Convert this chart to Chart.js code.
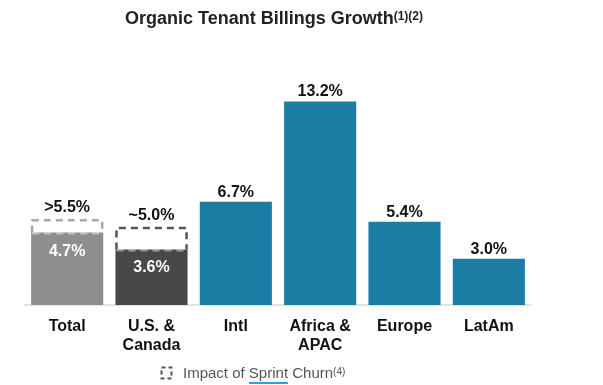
<!DOCTYPE html>
<html>
<head>
<meta charset="utf-8">
<script src="https://cdn.jsdelivr.net/npm/chart.js@4.4.1/dist/chart.umd.min.js"></script>
<style>
  html,body{margin:0;padding:0;background:#fff;}
  #wrap{position:relative;width:603px;height:385px;overflow:hidden;font-family:Arial,"Liberation Sans",sans-serif;}
  #c{position:absolute;left:0;top:0;}
  #title{position:absolute;left:125px;top:8px;font-size:18px;font-weight:bold;color:#222;line-height:20px;white-space:nowrap;}
  #title sup{font-size:12px;vertical-align:top;position:relative;top:-2px;}
  #legend{position:absolute;left:183px;top:364px;font-size:15px;color:#555;line-height:18px;white-space:nowrap;}
  #legend .sp{border-bottom:2px solid #3d9ad8;padding-bottom:1px;}
  #legend sup{font-size:10px;vertical-align:top;position:relative;top:-1px;}
  #icon{position:absolute;left:160px;top:366px;}
</style>
</head>
<body>
<div id="wrap">
  <canvas id="c" width="603" height="385"></canvas>
  <div id="title">Organic Tenant Billings Growth<sup>(1)(2)</sup></div>
  <svg id="icon" width="13" height="14" viewBox="0 0 13 14"><rect x="1.5" y="1.5" width="10" height="11" fill="none" stroke="#555" stroke-width="2" stroke-dasharray="4 3"/></svg>
  <div id="legend">Impact of <span class="sp">Sprint</span> Churn<sup>(4)</sup></div>
</div>
<script>
const categories = [['Total'], ['U.S. &', 'Canada'], ['Intl'], ['Africa &', 'APAC'], ['Europe'], ['LatAm']];
const growth = [4.7, 3.6, 6.7, 13.2, 5.4, 3.0];
const growthLabels = ['4.7%', '3.6%', '6.7%', '13.2%', '5.4%', '3.0%'];
const exSprint = [5.5, 5.0, null, null, null, null];
const exSprintLabels = ['>5.5%', '~5.0%', null, null, null, null];
const barColors = ['#8e8e8e', '#48484a', '#1b7ca4', '#1b7ca4', '#1b7ca4', '#1b7ca4'];
const dashColors = ['#a8a8a8', '#555555'];

const labelPlugin = {
  id: 'labels',
  afterDatasetsDraw(chart) {
    const ctx = chart.ctx;
    const meta = chart.getDatasetMeta(0);
    const y = chart.scales.y;
    ctx.save();
    ctx.font = 'bold 16px Arial, "Liberation Sans", sans-serif';
    ctx.textAlign = 'center';
    ctx.textBaseline = 'alphabetic';
    meta.data.forEach((bar, i) => {
      const top = y.getPixelForValue(growth[i]);
      const half = bar.width / 2;
      if (exSprint[i] != null) {
        const t2 = y.getPixelForValue(exSprint[i]);
        const l = bar.x - half + 1, r = bar.x + half - 1;
        ctx.save();
        ctx.lineWidth = 2.5;
        ctx.setLineDash([7, 5]);
        ctx.strokeStyle = dashColors[i];
        ctx.beginPath();
        ctx.moveTo(l, top); ctx.lineTo(l, t2); ctx.lineTo(r, t2); ctx.lineTo(r, top);
        ctx.stroke();
        ctx.strokeStyle = 'rgba(255,255,255,0.45)';
        ctx.lineWidth = 2;
        ctx.beginPath();
        ctx.moveTo(l, top + 1); ctx.lineTo(r, top + 1);
        ctx.stroke();
        ctx.restore();
        ctx.fillStyle = '#111';
        ctx.fillText(exSprintLabels[i], bar.x, t2 - 8);
        ctx.fillStyle = '#fff';
        ctx.fillText(growthLabels[i], bar.x, top + 23);
      } else {
        ctx.fillStyle = '#111';
        ctx.fillText(growthLabels[i], bar.x, top - 5);
      }
    });
    ctx.restore();
  }
};

new Chart(document.getElementById('c'), {
  type: 'bar',
  data: {
    labels: categories,
    datasets: [{
      data: growth,
      backgroundColor: barColors,
      borderWidth: 0,
      barPercentage: 0.855,
      categoryPercentage: 1.0
    }]
  },
  options: {
    responsive: false,
    animation: false,
    events: [],
    layout: { padding: { left: 25, right: 72, top: 73.7, bottom: 0 } },
    plugins: { legend: { display: false }, tooltip: { enabled: false }, title: { display: false } },
    scales: {
      x: {
        grid: { display: false, drawTicks: false },
        border: { display: true, color: '#e4e4e4', width: 2 },
        ticks: { color: '#111', font: { family: 'Arial, "Liberation Sans", sans-serif', size: 16, weight: 'bold', lineHeight: 1.2 }, padding: 12, maxRotation: 0, autoSkip: false },
        afterFit(s) { s.height = 80; }
      },
      y: { display: false, min: 0, max: 15 }
    }
  },
  plugins: [labelPlugin]
});
</script>
</body>
</html>
